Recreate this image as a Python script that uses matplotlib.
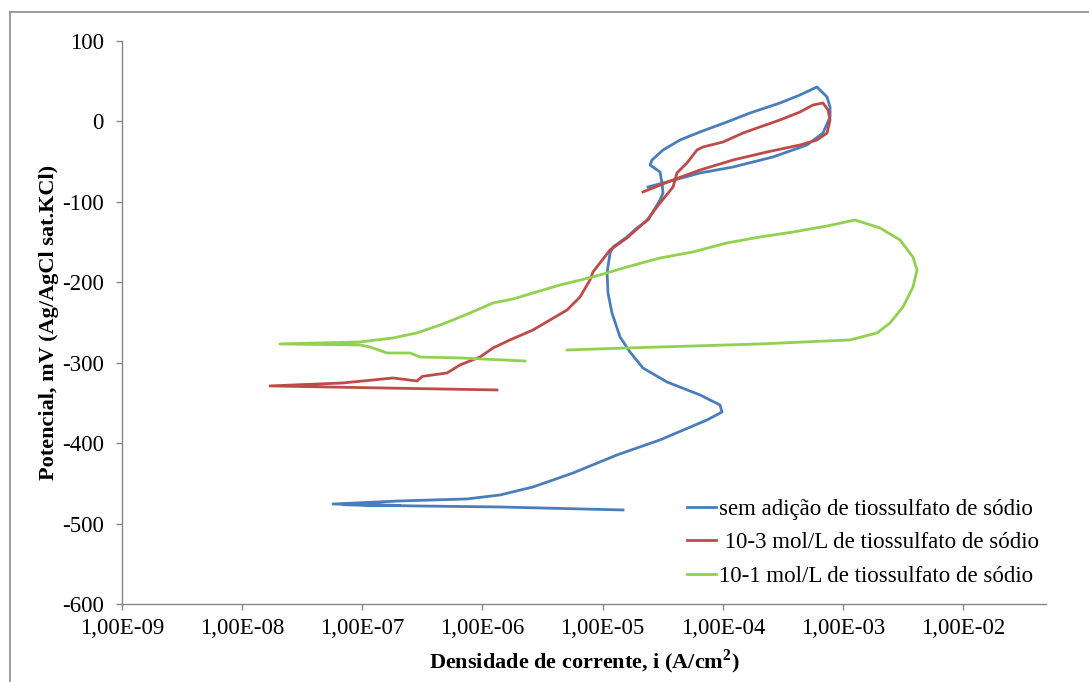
import numpy as np
import matplotlib.pyplot as plt
from matplotlib.lines import Line2D
from matplotlib.ticker import FixedLocator, NullLocator

plt.rcParams['font.family'] = ['Liberation Serif', 'DejaVu Serif']
plt.rcParams['axes.unicode_minus'] = False

# log10 of current density (A/cm2) and potential (mV) for each scan
log_i_sem = [-4.83, -5.854, -6.561, -7.16, -6.69, -7.244,
             -6.686, -6.129, -5.854, -5.579, -5.246, -4.880, -4.522, -4.131, -4.006,
             -4.023, -4.189, -4.464, -4.664, -4.772, -4.855, -4.922, -4.955, -4.963,
             -4.938, -4.913, -4.797, -4.714, -4.622, -4.522, -4.497, -4.506, -4.522,
             -4.605, -4.589, -4.497, -4.356, -4.189, -3.965, -3.773, -3.524, -3.357,
             -3.216, -3.132, -3.107, -3.107, -3.166, -3.299, -3.582, -3.915, -4.189,
             -4.464, -4.622]
e_sem = [-483.1, -479.4, -478.1, -476.5, -477.5, -475.7,
         -471.9, -469.4, -464.5, -454.5, -437.1, -414.7, -396.0, -371.2, -361.3,
         -352.6, -340.1, -324.0, -306.6, -286.7, -268.0, -238.2, -213.3, -188.5,
         -163.6, -156.1, -143.7, -132.5, -122.6, -97.7, -89.0, -76.6, -62.9,
         -54.2, -48.0, -35.5, -23.1, -13.1, -0.7, 10.5, 22.9, 32.9,
         42.8, 30.4, 17.9, 5.5, -14.4, -29.3, -44.2, -56.7, -64.1,
         -75.3, -81.5]

log_i_1e3 = [-5.879, -6.8, -7.768, -7.161, -6.745, -6.545, -6.50,
             -6.295, -6.187, -6.020, -5.912, -5.771, -5.579, -5.438, -5.296, -5.188,
             -5.105, -5.080, -4.938, -4.797, -4.630, -4.522, -4.414, -4.381, -4.298,
             -4.214, -4.164, -3.998, -3.831, -3.715, -3.524, -3.357, -3.249, -3.166,
             -3.124, -3.107, -3.132, -3.216, -3.357, -3.632, -3.915, -4.189, -4.414,
             -4.664]
e_1e3 = [-333.9, -331.5, -328.9, -325.2, -319.0, -322.7, -317.0,
         -312.8, -302.8, -292.9, -281.7, -271.7, -259.3, -246.9, -234.5, -218.3,
         -197.2, -187.2, -159.8, -144.9, -122.6, -101.4, -81.5, -64.1, -51.7,
         -35.5, -31.8, -25.6, -14.4, -8.2, 1.8, 11.7, 20.4, 22.9,
         14.2, 1.8, -14.4, -23.1, -29.3, -38.0, -48.0, -60.4, -72.8,
         -87.7]

log_i_1e1 = [-5.646, -6.187, -6.520, -6.603, -6.794, -6.936, -7.019, -7.685,
             -7.019, -6.745, -6.545, -6.353, -6.245, -6.104, -5.912, -5.746, -5.579,
             -5.355, -5.080, -4.797, -4.522, -4.248, -3.965, -3.690, -3.415, -3.132,
             -2.899, -2.691, -2.525, -2.417, -2.383, -2.417, -2.500, -2.608, -2.716,
             -2.941, -3.690, -4.797, -5.296]
e_1e1 = [-297.9, -294.1, -292.9, -287.9, -287.9, -280.4, -278.0, -276.7,
         -274.2, -269.3, -263.0, -253.1, -246.9, -238.2, -225.7, -220.8, -213.3,
         -203.4, -193.4, -181.0, -169.8, -162.3, -151.1, -143.7, -137.5, -130.0,
         -122.6, -132.5, -147.4, -168.6, -184.7, -205.9, -230.7, -250.6, -263.0,
         -271.7, -276.7, -281.7, -284.2]

labels = ['sem adição de tiossulfato de sódio',
          ' 10-3 mol/L de tiossulfato de sódio',
          '10-1 mol/L de tiossulfato de sódio']
colors = ['#4A7EBB', '#BE4B48', '#92D050']
x_ticks = [1e-9, 1e-8, 1e-7, 1e-6, 1e-5, 1e-4, 1e-3, 1e-2]
x_tick_labels = ['1,00E-09', '1,00E-08', '1,00E-07', '1,00E-06',
                 '1,00E-05', '1,00E-04', '1,00E-03', '1,00E-02']
y_ticks = [100, 0, -100, -200, -300, -400, -500, -600]

fig = plt.figure(figsize=(10.89, 6.82), dpi=100)
ax = fig.add_axes([0.1120, 0.1144, 0.8485, 0.8255])

for li, e, c, lab in zip([log_i_sem, log_i_1e3, log_i_1e1], [e_sem, e_1e3, e_1e1],
                         colors, labels):
    ax.plot(10 ** np.array(li), e, color=c, lw=2.0, label=lab)

ax.set_xscale('log')
ax.set_xlim(1e-9, 10 ** -1.31)
ax.set_ylim(-600, 100)
ax.xaxis.set_major_locator(FixedLocator(x_ticks))
ax.xaxis.set_minor_locator(NullLocator())
ax.set_xticklabels(x_tick_labels)
ax.set_yticks(y_ticks)

for s in ['top', 'right']:
    ax.spines[s].set_visible(False)
for s in ['left', 'bottom']:
    ax.spines[s].set_color('#868686')
    ax.spines[s].set_linewidth(1.0)
ax.tick_params(axis='both', direction='out', length=4, width=1, color='#868686',
               labelsize=16.5)
ax.tick_params(axis='y', pad=9)
ax.tick_params(axis='x', pad=6)

ax.set_xlabel('Densidade de corrente, i (A/cm$^{\\mathregular{2}}$)', fontsize=16,
              fontweight='bold', labelpad=6)
ax.set_ylabel('Potencial, mV (Ag/AgCl sat.KCl)', fontsize=16, fontweight='bold',
              labelpad=2)

ax.legend(loc='upper left', bbox_to_anchor=(0.631, 0.268), bbox_transform=fig.transFigure,
          frameon=False, fontsize=16.5, handlelength=1.25, handletextpad=0.15,
          labelspacing=0.53, borderpad=0, borderaxespad=0)

# outer chart frame
fig.add_artist(Line2D([10 / 1089, 10 / 1089], [0, 1 - 12 / 682], color='#8C8C8C', lw=1.2))
fig.add_artist(Line2D([10 / 1089, 1], [1 - 12 / 682, 1 - 12 / 682], color='#8C8C8C', lw=1.2))

fig.savefig('out.png', dpi=100)
